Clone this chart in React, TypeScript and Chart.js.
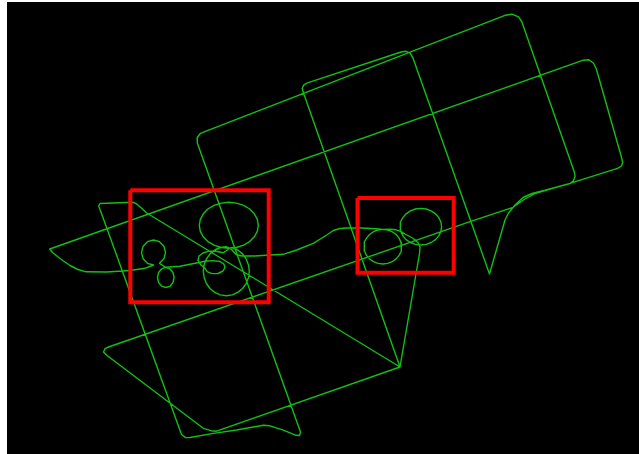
import React, { useEffect, useRef } from "react";
import { Chart, registerables } from "chart.js";

Chart.register(...registerables);

type P = [number, number];

// Flight track, in order (image-plane position units)
const surveyLegs: P[] = [
  [400, 367], [303.5, 93], [302.2, 88.5], [303.8, 84.8], [307.5, 82.8],
  [401, 52], [406, 51.3], [410, 53.2], [412.8, 57.5],
  [489.5, 274],
  [505, 220], [508.5, 213], [515, 205], [523, 197.5], [532, 193.5], [545, 190.3], [570, 183.5], [573.5, 180.8], [575, 176.5], [574.3, 172],
  [521.7, 21.5], [518.5, 16.8], [512, 14.2], [505, 15.3],
  [206.7, 130.8], [200.5, 133.3], [197.2, 137.5], [197.3, 143],
  [300.5, 432], [299.5, 435.5], [296, 435.3], [283.3, 430.2], [270, 425.8], [263.3, 425.2], [236.7, 430], [213.3, 433.4], [190, 437.5], [185.5, 437.6], [181.5, 434.5],
  [101.5, 213.5], [98.6, 206], [100, 203.5], [133.3, 202.3], [136.7, 204], [141, 207.8], [146.7, 213],
  [400, 367],
  [216.5, 431.2], [211, 430.7], [203.3, 428.3],
  [106.7, 355.3], [103.5, 352], [105, 348.7], [108.5, 347],
  [470, 221.7], [513, 207.3], [524, 199.5], [535, 193.5], [545, 190.5], [570, 183.3], [617.5, 168.3], [621.5, 166], [622.7, 162.5], [621.7, 158],
  [596.2, 68.5], [593.5, 63.3], [588.8, 59.8], [583.3, 60.2],
  [49.8, 249],
  [52.5, 252.5], [60, 258.5], [70, 265.5], [78, 269.5], [86, 271.8], [106.7, 272], [130, 270.5], [145, 268.3], [153.5, 265],
];

const loopA: P[] = [
  [147.5, 263.3], [143.1, 258.8], [141.5, 252.5], [143.1, 246.3], [147.5, 241.7], [153.5, 240],
  [159.5, 241.7], [163.9, 246.3], [165.5, 252.5], [163.9, 258.8], [159.5, 263.3],
];

const loopB: P[] = [
  [165.8, 267.5], [170, 268.8], [173, 272.5], [174.1, 277.5], [173, 282.5], [170, 286.2], [165.8, 287.5],
  [161.7, 286.2], [158.6, 282.5], [157.5, 277.5], [158.6, 272.5], [161.7, 268.8], [166, 267.2], [172, 266.8],
];

const waveMid: P[] = [[180, 266.2], [190, 264.3], [198, 262.7], [205, 261.3]];

const loopD: P[] = [
  [213, 260.6], [220, 261.5], [224, 264.2], [225, 267.5], [223, 271], [218, 273.5], [212, 273.6], [207, 271.6], [204.8, 268],
  [201, 265], [198, 260.5], [199, 256], [203, 253], [209, 251.2], [216, 251.3], [223, 252.8], [227.5, 250],
];

const loopC: P[] = [
  [228.8, 248.3], [236.4, 247.5], [243.6, 245.2], [249.7, 241.6], [254.3, 236.8], [257.3, 231.3], [258.3, 225.3],
  [257.3, 219.3], [254.3, 213.8], [249.7, 209.0], [243.6, 205.4], [236.4, 203.1], [228.8, 202.3], [221.2, 203.1],
  [214.0, 205.4], [207.9, 209.0], [203.3, 213.8], [200.3, 219.3], [199.3, 225.3], [200.3, 231.3], [203.3, 236.8],
  [207.9, 241.6], [214.0, 245.2], [221.2, 247.5], [228.8, 248.3],
];

const loopE: P[] = [
  [232.3, 247.5], [237.8, 250.0], [242.6, 253.9], [246.2, 259.0], [248.5, 264.9], [249.3, 271.2], [248.5, 277.5],
  [246.2, 283.5], [242.6, 288.5], [237.8, 292.4], [232.3, 294.9], [226.3, 295.7], [220.3, 294.9], [214.8, 292.4],
  [210.0, 288.5], [206.4, 283.5], [204.1, 277.5], [203.3, 271.2], [204.1, 264.9], [206.4, 259.0], [210.0, 253.9],
  [214.8, 250.0], [220.3, 247.5], [226.3, 246.7],
];

const waveEast: P[] = [
  [231.5, 249.5], [236, 254.5], [242, 256], [255, 256], [270, 255], [283.3, 254.3], [296.7, 250], [313.3, 243.3],
  [326.7, 235], [333.3, 230.5], [340, 228.5], [350, 227.7], [362, 228], [376, 228.8],
];

const loopG: P[] = [
  [382.8, 229.4], [387.7, 230.0], [392.2, 231.7], [396.1, 234.5], [399.1, 238.1], [401.0, 242.2], [401.6, 246.7],
  [401.0, 251.2], [399.1, 255.4], [396.1, 258.9], [392.2, 261.7], [387.7, 263.4], [382.8, 264.0], [377.9, 263.4],
  [373.4, 261.7], [369.5, 258.9], [366.5, 255.4], [364.6, 251.2], [364.0, 246.7], [364.6, 242.2], [366.5, 238.1],
  [369.5, 234.5], [373.4, 231.7], [377.9, 230.0], [382.8, 229.4], [390, 229.2], [396, 229.8],
];

const loopF: P[] = [
  [400.7, 231.4], [400.0, 226.7], [400.7, 222.0], [402.8, 217.6], [406.1, 213.8], [410.4, 210.9], [415.4, 209.0],
  [420.8, 208.4], [426.2, 209.0], [431.2, 210.9], [435.5, 213.8], [438.8, 217.6], [440.9, 222.0], [441.6, 226.7],
  [440.9, 231.4], [438.8, 235.9], [435.5, 239.6], [431.2, 242.5], [426.2, 244.4], [420.8, 245.0], [415.4, 244.4],
  [410.4, 242.5], [406.1, 239.6], [402.8, 235.9], [400.7, 231.4],
];

const returnLeg: P[] = [[406, 234.5], [413.3, 238.5], [418, 242.5], [420, 247], [419.6, 253], [400, 367]];

// Highlight boxes
const boxLeft = [130.3, 357.5];
const boxRight = [268.7, 453.7];
const boxTop = [190.2, 198];
const boxBottom = [302.3, 272.7];

const track: P[] = [
  ...surveyLegs, ...loopA, ...loopB, ...waveMid, ...loopD, ...loopC, ...loopE,
  ...waveEast, ...loopG, ...loopF, ...returnLeg,
];

export default function App() {
  const ref = useRef<HTMLCanvasElement>(null);

  useEffect(() => {
    if (!ref.current) return;
    const boxes = boxLeft.map((l, i) => ({
      data: [
        { x: l, y: boxTop[i] },
        { x: boxRight[i], y: boxTop[i] },
        { x: boxRight[i], y: boxBottom[i] },
        { x: l, y: boxBottom[i] },
        { x: l, y: boxTop[i] },
      ],
      showLine: true,
      borderColor: "#ff0000",
      borderWidth: 4,
      borderJoinStyle: "miter" as const,
      pointRadius: 0,
      tension: 0,
      fill: false,
      order: 0,
    }));
    const chart = new Chart(ref.current, {
      type: "scatter",
      data: {
        datasets: [
          ...boxes,
          {
            data: track.map(([x, y]) => ({ x, y })),
            showLine: true,
            borderColor: "#12c012",
            borderWidth: 1.4,
            borderJoinStyle: "round",
            pointRadius: 0,
            tension: 0,
            fill: false,
            order: 1,
          },
        ],
      },
      options: {
        animation: false,
        responsive: false,
        maintainAspectRatio: false,
        devicePixelRatio: 1,
        events: [],
        layout: { padding: 0 },
        plugins: { legend: { display: false }, tooltip: { enabled: false } },
        scales: {
          x: { type: "linear", min: 7, max: 639, display: false },
          y: { type: "linear", min: 2, max: 454, reverse: true, display: false },
        },
      },
    });
    return () => chart.destroy();
  }, []);

  return (
    <div style={{ position: "fixed", left: 7, top: 2, width: 632, height: 452, background: "#000" }}>
      <canvas ref={ref} width={632} height={452} style={{ display: "block" }} />
    </div>
  );
}
